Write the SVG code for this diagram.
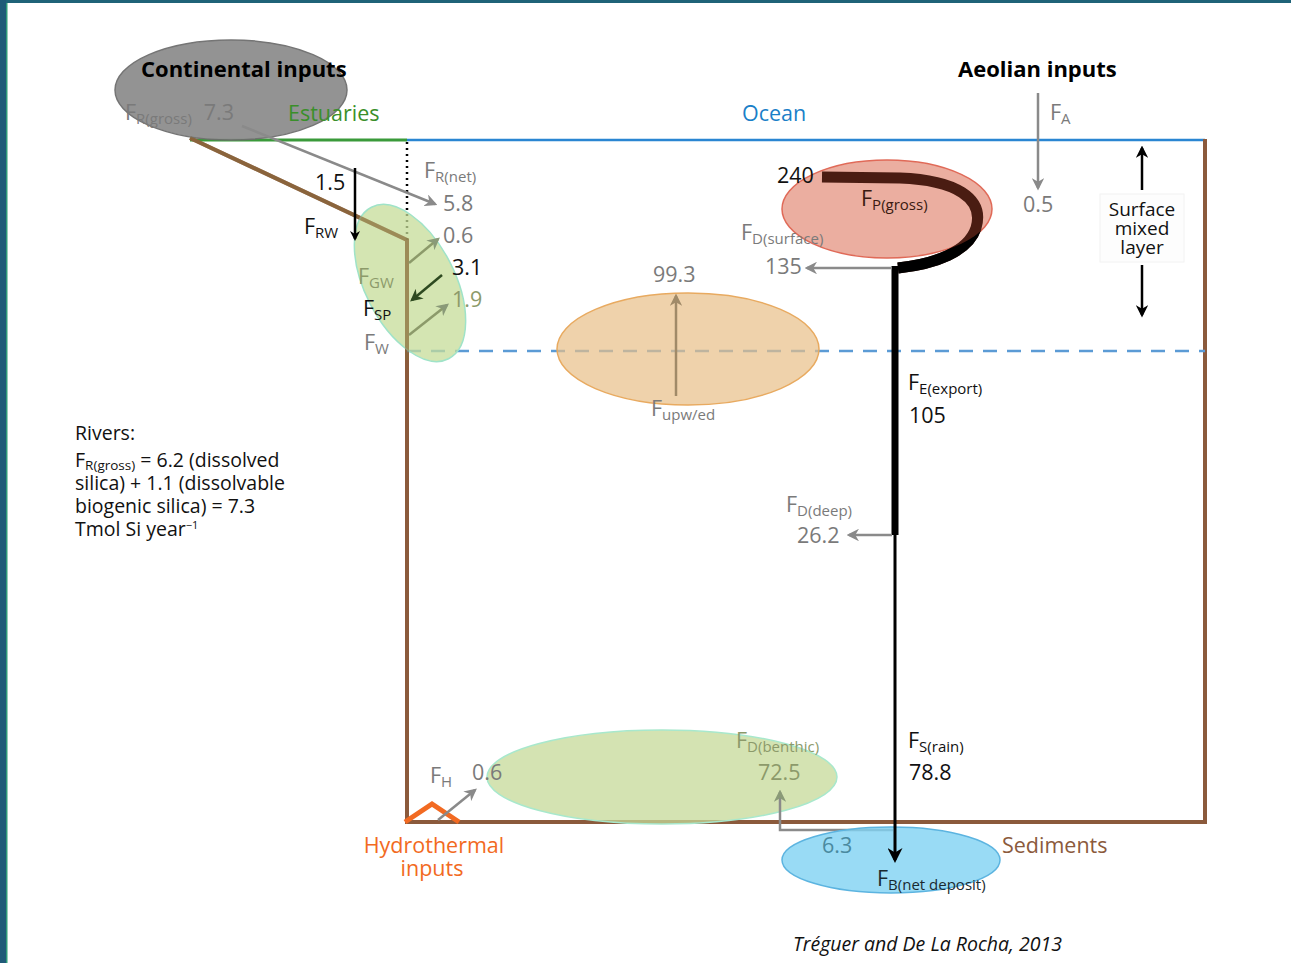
<svg xmlns="http://www.w3.org/2000/svg" width="1291" height="963" viewBox="0 0 1291 963">
<defs>
<style>
text{font-family:"Open Sans","Noto Sans","Liberation Sans",sans-serif;font-size:21.5px}
.b{font-weight:bold;fill:#000;font-size:22px}
.k{fill:#111}
.g{fill:#7a7a7a}
.sub{font-size:15px}
.og{fill:#8c9a6a}
.brown{stroke:#8b5a3c;stroke-width:4;fill:none}
.ga{stroke:#8a8a8a;stroke-width:2.5;fill:none}
.note{font-size:19.5px;fill:#111}
.nsub{font-size:13.5px}
.sml{font-size:19px;fill:#111;text-anchor:middle}
.cite{font-size:19.5px;font-style:italic;fill:#111}
</style>
<marker id="ag" viewBox="0 0 10 10" refX="8" refY="5" markerWidth="5" markerHeight="5" orient="auto"><path d="M0,0 L10,5 L0,10 L3,5 z" fill="#8a8a8a"/></marker>
<marker id="ak" viewBox="0 0 10 10" refX="8" refY="5" markerWidth="5" markerHeight="5" orient="auto"><path d="M0,0 L10,5 L0,10 L3,5 z" fill="#000"/></marker>
<marker id="ak2" viewBox="0 0 10 10" refX="8" refY="5" markerWidth="4" markerHeight="4" orient="auto"><path d="M0,0 L10,5 L0,10 L3,5 z" fill="#000"/></marker>
<marker id="ad" viewBox="0 0 10 10" refX="8" refY="5" markerWidth="5" markerHeight="5" orient="auto"><path d="M0,0 L10,5 L0,10 L3,5 z" fill="#2e4a20"/></marker>
<marker id="ao" viewBox="0 0 10 10" refX="8" refY="5" markerWidth="5" markerHeight="5" orient="auto"><path d="M0,0 L10,5 L0,10 L3,5 z" fill="#8a9a78"/></marker>
<marker id="ab" viewBox="0 0 10 10" refX="8" refY="5" markerWidth="5" markerHeight="5" orient="auto"><path d="M0,0 L10,5 L0,10 L3,5 z" fill="#a08a68"/></marker>
<mask id="outRed">
<rect width="1291" height="963" fill="#fff"/>
<ellipse cx="887" cy="209" rx="105" ry="49" fill="#000"/>
</mask>
</defs>
<rect width="1291" height="963" fill="#fff"/>
<rect x="0" y="0" width="1291" height="3" fill="#1f6378"/>
<rect x="0" y="0" width="6" height="963" fill="#1f5a78"/>
<rect x="6" y="3" width="1.5" height="960" fill="#2e9a78"/>

<g id="compartments">
<line x1="407" y1="140" x2="1205" y2="140" stroke="#2a86d2" stroke-width="2.5"/>
<line x1="190" y1="140" x2="407" y2="140" stroke="#3a9a3a" stroke-width="3"/>
<polyline class="brown" points="190,138 407,240 407,822 1205,822 1205,139"/>
<line x1="407" y1="142" x2="407" y2="240" stroke="#000" stroke-width="2.5" stroke-dasharray="2,4"/>
<line x1="407" y1="351" x2="1205" y2="351" stroke="#5b9bd5" stroke-width="2.5" stroke-dasharray="14,10"/>
<polyline points="405,822 432,804 459,822" fill="none" stroke="#f26a22" stroke-width="5"/>
</g>

<g id="continental">
<ellipse cx="231" cy="90" rx="116" ry="50" fill="#8e8e8e" stroke="#6e6e6e" stroke-width="1.5" opacity="0.95"/>
<text x="141" y="77" class="b">Continental inputs</text>
<text x="125" y="120" class="g">F<tspan class="sub" dy="4">R(gross)</tspan><tspan dy="-4" dx="12">7.3</tspan></text>
</g>
<text x="288" y="121" fill="#3a8f2a">Estuaries</text>
<text x="742" y="121" fill="#1a7fc8">Ocean</text>
<text x="958" y="77" class="b">Aeolian inputs</text>

<g id="estuary">
<ellipse cx="410" cy="283" rx="45" ry="85" transform="rotate(-27 410 283)" fill="#c6dc98" fill-opacity="0.75" stroke="#9fe3c8" stroke-width="1.5"/>
<polyline points="190,138 407,240 407,360" fill="none" stroke="#8b6a3c" stroke-width="4" opacity="0.6"/>
<line x1="409" y1="263" x2="438" y2="239" stroke="#8c9a6a" stroke-width="2.5" marker-end="url(#ao)"/>
<line x1="442" y1="275" x2="412" y2="300" stroke="#2e4a20" stroke-width="2.5" marker-end="url(#ad)"/>
<line x1="409" y1="335" x2="447" y2="305" stroke="#8c9a6a" stroke-width="2.5" marker-end="url(#ao)"/>
<text x="358" y="284" class="og">F<tspan class="sub" dy="4">GW</tspan></text>
<text x="363" y="316" class="k">F<tspan class="sub" dy="4">SP</tspan></text>
<text x="364" y="350" class="g">F<tspan class="sub" dy="4">W</tspan></text>
<text x="443" y="243" class="g">0.6</text>
<text x="452" y="275" class="k">3.1</text>
<text x="452" y="307" class="og">1.9</text>
</g>

<g id="rivers-flux">
<line x1="242" y1="126" x2="435" y2="204" class="ga" marker-end="url(#ag)"/>
<text x="424" y="178" class="g">F<tspan class="sub" dy="4">R(net)</tspan></text>
<text x="443" y="211" class="g">5.8</text>
<line x1="355" y1="168" x2="355" y2="239" stroke="#000" stroke-width="2.5" marker-end="url(#ak2)"/>
<text x="315" y="190" class="k">1.5</text>
<text x="304" y="234" class="k">F<tspan class="sub" dy="4">RW</tspan></text>
</g>

<g id="upwelling">
<ellipse cx="688" cy="349" rx="131" ry="56" fill="#e8bf88" fill-opacity="0.7" stroke="#e8aa60" stroke-width="1.5"/>
<line x1="676" y1="396" x2="676" y2="296" stroke="#a08a68" stroke-width="2.5" marker-end="url(#ab)"/>
<text x="653" y="282" class="g">99.3</text>
<text x="651" y="416" class="g">F<tspan class="sub" dy="4">upw/ed</tspan></text>
</g>

<g id="production">
<ellipse cx="887" cy="209" rx="105" ry="49" fill="#e28c78" fill-opacity="0.7" stroke="#e06a58" stroke-width="1.5"/>
<path d="M822,177 L900,178 C955,180 985,198 976,228 C968,252 935,264 898,268" fill="none" stroke="#4a1c12" stroke-width="11"/>
<path d="M822,177 L900,178 C955,180 985,198 976,228 C968,252 935,264 898,268" fill="none" stroke="#000" stroke-width="11" mask="url(#outRed)"/>
<path d="M895,266 L895,535" stroke="#000" stroke-width="7" fill="none"/>
<text x="777" y="183" class="k">240</text>
<text x="861" y="206" fill="#3a1a10">F<tspan class="sub" dy="4">P(gross)</tspan></text>
<line x1="892" y1="268" x2="807" y2="268" class="ga" marker-end="url(#ag)"/>
<text x="741" y="240" class="g">F<tspan class="sub" dy="4">D(surface)</tspan></text>
<text x="765" y="274" class="g">135</text>
</g>

<g id="export">
<text x="908" y="390" class="k">F<tspan class="sub" dy="4">E(export)</tspan></text>
<text x="909" y="423" class="k">105</text>
<line x1="892" y1="535" x2="849" y2="535" class="ga" marker-end="url(#ag)"/>
<text x="786" y="512" class="g">F<tspan class="sub" dy="4">D(deep)</tspan></text>
<text x="797" y="543" class="g">26.2</text>
<text x="908" y="748" class="k">F<tspan class="sub" dy="4">S(rain)</tspan></text>
<text x="909" y="780" class="k">78.8</text>
</g>

<g id="benthic">
<ellipse cx="662" cy="777" rx="175" ry="47" fill="#c6da98" fill-opacity="0.75" stroke="#a8e8cc" stroke-width="1.5"/>
<polyline points="893,830 780,830 780,792" fill="none" stroke="#8a8a8a" stroke-width="2.5" marker-end="url(#ao)"/>
<text x="736" y="748" class="og">F<tspan class="sub" dy="4">D(benthic)</tspan></text>
<text x="758" y="780" class="og">72.5</text>
</g>

<g id="burial">
<ellipse cx="891" cy="860" rx="109" ry="33" fill="#7fd2f2" fill-opacity="0.8" stroke="#5cb4e0" stroke-width="1.5"/>
<line x1="895" y1="535" x2="895" y2="860" stroke="#000" stroke-width="3" marker-end="url(#ak)"/>
<text x="822" y="853" fill="#4a8aa0">6.3</text>
<text x="877" y="886" fill="#1a2a30">F<tspan class="sub" dy="4">B(net deposit)</tspan></text>
<text x="1002" y="853" fill="#8b5a3c">Sediments</text>
</g>

<g id="hydrothermal">
<line x1="438" y1="820" x2="475" y2="790" class="ga" marker-end="url(#ag)"/>
<text x="430" y="783" class="g">F<tspan class="sub" dy="4">H</tspan></text>
<text x="472" y="780" class="g">0.6</text>
<text x="434" y="853" fill="#f26a22" text-anchor="middle">Hydrothermal</text>
<text x="432" y="876" fill="#f26a22" text-anchor="middle">inputs</text>
</g>

<g id="aeolian">
<line x1="1038" y1="93" x2="1038" y2="188" class="ga" marker-end="url(#ag)"/>
<text x="1050" y="120" class="g">F<tspan class="sub" dy="4">A</tspan></text>
<text x="1023" y="212" class="g">0.5</text>
</g>

<g id="mixed-layer">
<line x1="1142" y1="190" x2="1142" y2="148" stroke="#000" stroke-width="2.5" marker-end="url(#ak)"/>
<rect x="1100" y="194" width="84" height="68" fill="#fdfdfd" stroke="#f2f2f2"/>
<text x="1142" y="216" class="sml">Surface</text>
<text x="1142" y="235" class="sml">mixed</text>
<text x="1142" y="254" class="sml">layer</text>
<line x1="1142" y1="265" x2="1142" y2="315" stroke="#000" stroke-width="2.5" marker-end="url(#ak)"/>
</g>

<g id="rivers-note">
<text x="75" y="440" class="note">Rivers:</text>
<text x="75" y="467" class="note">F<tspan class="nsub" dy="3">R(gross)</tspan><tspan dy="-3"> = 6.2 (dissolved</tspan></text>
<text x="75" y="490" class="note">silica) + 1.1 (dissolvable</text>
<text x="75" y="513" class="note">biogenic silica) = 7.3</text>
<text x="75" y="536" class="note">Tmol Si year<tspan dy="-7" style="font-size:11px">−1</tspan></text>
</g>

<text x="793" y="951" class="cite">Tréguer and De La Rocha, 2013</text>
</svg>
